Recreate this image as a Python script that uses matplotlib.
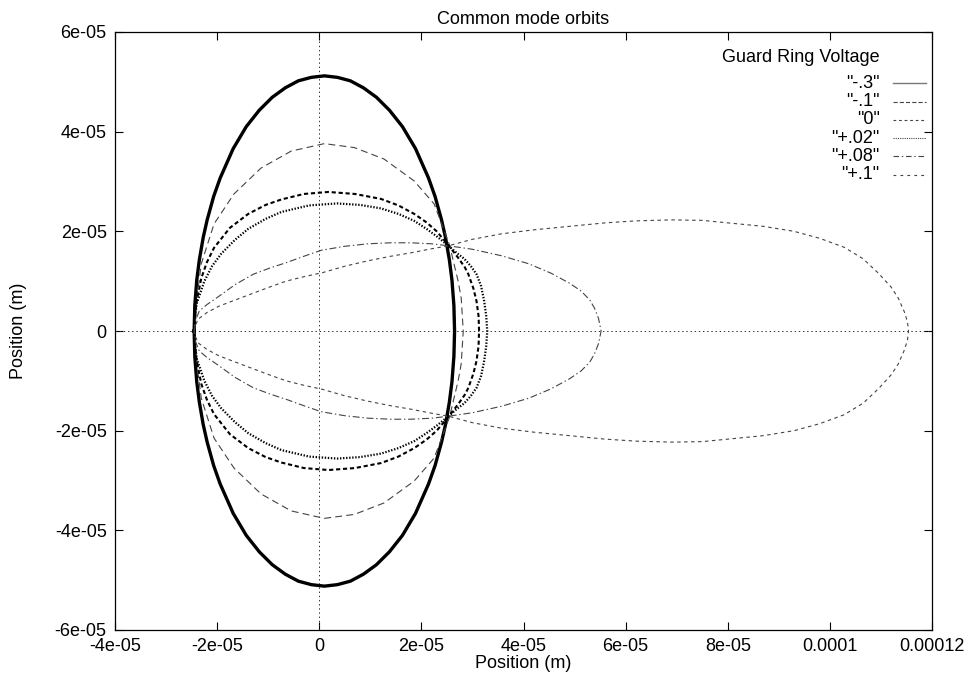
import numpy as np
import matplotlib.pyplot as plt
from matplotlib.lines import Line2D

plt.rcParams['font.family'] = ['Liberation Sans', 'DejaVu Sans']
plt.rcParams['font.size'] = 13
plt.rcParams['lines.scale_dashes'] = False

# orbit points, upper half only (units of 1e-5 m)
x_m3 = [-2.45, -2.437, -2.399, -2.348, -2.272, -2.195, -2.068, -1.94, -1.685,
        -1.43, -1.175, -0.92, -0.665, -0.41, -0.155, 0.1, 0.355, 0.61, 0.865,
        1.12, 1.375, 1.63, 1.885, 2.14, 2.268, 2.395, 2.472, 2.548, 2.599,
        2.637, 2.65]
y_m3 = [0, 0.51, 1.02, 1.43, 1.88, 2.23, 2.70, 3.07, 3.66,
        4.10, 4.43, 4.69, 4.88, 5.02, 5.09, 5.12, 5.09, 5.02, 4.88,
        4.69, 4.43, 4.10, 3.66, 3.07, 2.70, 2.23, 1.88, 1.43, 1.02,
        0.51, 0]

x_m1 = [-2.45, -2.38, -2.31, -2.06, -1.67, -1.14, -0.55, 0.1, 0.69, 1.27,
        1.86, 2.25, 2.55, 2.72, 2.78, 2.82]
y_m1 = [0, 0.8, 1.35, 2.15, 2.75, 3.27, 3.61, 3.76, 3.68, 3.45,
        3.01, 2.55, 1.73, 1.0, 0.66, 0]

x_0 = [-2.45, -2.43, -2.4, -2.31, -2.2, -2.06, -1.75, -1.39, -1.05, -0.74,
       -0.3, 0.18, 0.7, 1.21, 1.55, 1.86, 2.1, 2.3, 2.53, 2.72, 2.85, 2.92,
       3.02, 3.08, 3.12, 3.13]
y_0 = [0, 0.35, 0.6, 1.06, 1.38, 1.67, 2.07, 2.35, 2.53, 2.64,
       2.75, 2.79, 2.75, 2.65, 2.52, 2.35, 2.18, 2.0, 1.72, 1.47, 1.28, 1.14,
       0.85, 0.60, 0.3, 0]

x_p02 = [-2.45, -2.43, -2.4, -2.25, -2.1, -1.92, -1.65, -1.39, -1.05, -0.74,
         -0.2, 0.35, 0.8, 1.21, 1.55, 1.86, 2.1, 2.3, 2.53, 2.7, 2.84, 2.97,
         3.08, 3.17, 3.23, 3.27, 3.29]
y_p02 = [0, 0.3, 0.55, 1.0, 1.3, 1.55, 1.83, 2.05, 2.25, 2.39,
         2.52, 2.56, 2.53, 2.46, 2.35, 2.21, 2.05, 1.90, 1.71, 1.56, 1.45, 1.30,
         1.14, 0.90, 0.60, 0.3, 0]

x_p08 = [-2.45, -2.43, -2.42, -2.35, -2.2, -1.96, -1.65, -1.29, -0.95, -0.65,
         -0.3, 0.04, 0.5, 0.96, 1.4, 1.8, 2.2, 2.53, 3.0, 3.57, 4.1, 4.54, 4.9,
         5.13, 5.3, 5.39, 5.47, 5.52]
y_p08 = [0, 0.13, 0.22, 0.40, 0.53, 0.70, 0.93, 1.14, 1.27, 1.37,
         1.50, 1.62, 1.70, 1.75, 1.77, 1.77, 1.75, 1.71, 1.64, 1.51, 1.35, 1.16,
         0.96, 0.80, 0.62, 0.46, 0.25, 0]

x_p1 = [-2.45, -2.43, -2.37, -2.2, -1.96, -1.6, -1.29, -0.95, -0.65, -0.3,
        0.06, 0.5, 0.96, 1.4, 1.8, 2.2, 2.53, 3.0, 3.57, 4.2, 4.8, 5.6, 6.2,
        6.9, 7.5, 8.0, 8.7, 9.3, 9.8, 10.28, 10.65, 10.95, 11.2, 11.34, 11.46,
        11.52, 11.54]
y_p1 = [0, 0.1, 0.24, 0.37, 0.50, 0.64, 0.76, 0.89, 1.0, 1.09,
        1.17, 1.30, 1.41, 1.50, 1.57, 1.65, 1.71, 1.84, 1.95, 2.03, 2.09, 2.17,
        2.21, 2.23, 2.22, 2.17, 2.10, 2.00, 1.86, 1.68, 1.45, 1.16, 0.88, 0.66,
        0.38, 0.18, 0]

labels = ['"-.3"', '"-.1"', '"0"', '"+.02"', '"+.08"', '"+.1"']
xs = [x_m3, x_m1, x_0, x_p02, x_p08, x_p1]
ys = [y_m3, y_m1, y_0, y_p02, y_p08, y_p1]

# plot styles (curve) and legend styles
styles = [
    dict(color='black', lw=2.4, ls='-'),
    dict(color='#444444', lw=0.8, ls=(0, (5, 3))),
    dict(color='black', lw=1.5, ls=(0, (3, 2))),
    dict(color='black', lw=1.6, ls=(0, (1, 1.2))),
    dict(color='#444444', lw=0.8, ls=(0, (5, 2, 1, 2))),
    dict(color='#444444', lw=0.8, ls=(0, (2.5, 2.5))),
]
leg_styles = [
    dict(color='#777777', lw=1.0, ls='-'),
    dict(color='#444444', lw=0.8, ls=(0, (3, 1.5))),
    dict(color='#444444', lw=0.8, ls=(0, (2, 2))),
    dict(color='#444444', lw=0.8, ls=(0, (0.8, 0.8))),
    dict(color='#444444', lw=0.8, ls=(0, (4, 2, 1, 2))),
    dict(color='#444444', lw=0.8, ls=(0, (2, 3))),
]

xticks = [-4e-05, -2e-05, 0, 2e-05, 4e-05, 6e-05, 8e-05, 1e-04, 1.2e-04]
xtick_labels = ['-4e-05', '-2e-05', '0', '2e-05', '4e-05', '6e-05', '8e-05',
                '0.0001', '0.00012']
yticks = [-6e-05, -4e-05, -2e-05, 0, 2e-05, 4e-05, 6e-05]
ytick_labels = ['-6e-05', '-4e-05', '-2e-05', '0', '2e-05', '4e-05', '6e-05']

fig = plt.figure(figsize=(9.68, 6.79), dpi=100)
ax = fig.add_axes([115/968, 49/679, 817/968, 598/679])

ax.axhline(0, color='#333333', lw=0.7, ls=(0, (1, 2)))
ax.axvline(0, color='#333333', lw=0.7, ls=(0, (1, 2)))

for x, y, st in zip(xs, ys, styles):
    x = np.array(x) * 1e-5
    y = np.array(y) * 1e-5
    xx = np.concatenate([x, x[::-1][1:]])
    yy = np.concatenate([y, -y[::-1][1:]])
    ax.plot(xx, yy, **st)

ax.set_xlim(-4e-05, 1.2e-04)
ax.set_ylim(-6e-05, 6e-05)
ax.set_xticks(xticks)
ax.set_xticklabels(xtick_labels)
ax.set_yticks(yticks)
ax.set_yticklabels(ytick_labels)
ax.tick_params(direction='in', length=6, width=0.8, top=True, right=True, pad=6)
for s in ax.spines.values():
    s.set_linewidth(0.9)

ax.set_title('Common mode orbits', fontsize=13, pad=6)
ax.set_xlabel('Position (m)')
ax.set_ylabel('Position (m)')
ax.xaxis.set_label_coords(0.5, -0.042)
ax.yaxis.set_label_coords(-0.108, 0.5)

# legend, gnuplot style: labels right aligned, sample lines to the right
ax.text(0.936, 0.958, 'Guard Ring Voltage', transform=ax.transAxes,
        ha='right', va='center')
for i, (lab, st) in enumerate(zip(labels, leg_styles)):
    yf = 0.914 - i * 0.0305
    ax.text(0.936, yf, lab, transform=ax.transAxes, ha='right', va='center')
    ax.add_line(Line2D([0.952, 0.993], [yf, yf], transform=ax.transAxes,
                       clip_on=False, **st))

fig.savefig('out.png', dpi=100)
